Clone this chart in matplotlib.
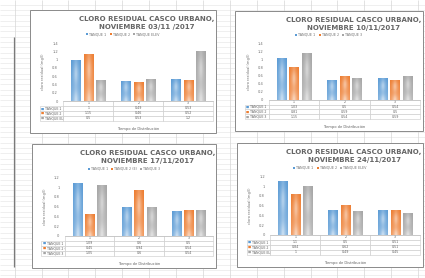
import numpy as np
import matplotlib
matplotlib.use("Agg")
import matplotlib.pyplot as plt
from matplotlib.patches import Rectangle, Patch
from matplotlib.colors import to_rgb

W, H = 425, 278

categories = ["1", "2", "3"]
series_colors = ["#5B9BD5", "#ED7D31", "#A5A5A5"]

# values (tank 1, tank 2, tank 3) per distribution time
dates = ["NOVIEMBRE 03/11 /2017", "NOVIEMBRE 10/11/2017",
         "NOVIEMBRE 17/11/2017", "NOVIEMBRE 24/11/2017"]
names = [["TANQUE 1", "TANQUE 2", "TANQUE ELEV"],
         ["TANQUE 1", "TANQUE 2", "TANQUE 3"],
         ["TANQUE 1", "TANQUE 2 (E)", "TANQUE 3"],
         ["TANQUE 1", "TANQUE 2", "TANQUE ELEV"]]
vals_03 = [[1.0, 0.49, 0.53], [1.15, 0.46, 0.52], [0.5, 0.53, 1.2]]
vals_10 = [[1.03, 0.5, 0.54], [0.81, 0.59, 0.5], [1.15, 0.54, 0.59]]
vals_17 = [[1.09, 0.6, 0.5], [0.45, 0.94, 0.54], [1.05, 0.6, 0.54]]
vals_24 = [[1.1, 0.5, 0.51], [0.84, 0.62, 0.51], [1.0, 0.49, 0.45]]
all_vals = [vals_03, vals_10, vals_17, vals_24]
ymax = [1.4, 1.4, 1.2, 1.2]

# chart boxes in pixels: left, top, right, bottom
boxes = [(30, 10, 216, 133), (235, 11, 423, 131),
         (32, 144, 216, 268), (237, 143, 423, 267)]

fig = plt.figure(figsize=(W / 100, H / 100), dpi=100)
fig.patch.set_facecolor("white")

# spreadsheet background
bg = fig.add_axes([0, 0, 1, 1])
bg.set_xlim(0, W)
bg.set_ylim(H, 0)
bg.axis("off")
bg.hlines(np.arange(4.9, H, 5.3), 0, W, color="#e4e4e4", lw=0.4)
bg.vlines(np.arange(14.7, W, 26.9), 0, H, color="#d6d6d6", lw=0.5)
bg.vlines(14, 37, 267, color="#7a7a7a", lw=0.9)


def gradient_bar(ax, bar, color):
    x, y = bar.get_x(), bar.get_y()
    w, h = bar.get_width(), bar.get_height()
    rgb = np.array(to_rgb(color))
    xs = np.linspace(-1, 1, 30)
    ys = np.linspace(0, 1, 80)
    hx = (1 - np.abs(xs)) ** 1.3
    band = 0.5 + 0.5 * np.cos(ys * 2 * np.pi * 1.5)
    mix = 0.5 * hx[None, :] * (0.5 + 0.5 * band[:, None]) + 0.22 * (1 - ys[:, None])
    mix = np.clip(mix, 0, 0.8)
    img = rgb[None, None, :] * (1 - mix[..., None]) + mix[..., None]
    im = ax.imshow(img, extent=[x, x + w, y, y + h], origin="lower",
                   aspect="auto", zorder=2, interpolation="bilinear")
    im.set_clip_path(bar)
    bar.set_facecolor("none")


for k, (l, t, r, b) in enumerate(boxes):
    bw, bh = r - l, b - t
    fig.patches.append(Rectangle((l / W, 1 - b / H), bw / W, bh / H,
                                 transform=fig.transFigure, facecolor="white",
                                 edgecolor="#8a8a8a", lw=0.7, zorder=1))
    # title
    cx = (l + 0.63 * bw) / W
    fig.text(cx, 1 - (t + 0.075 * bh) / H, "CLORO RESIDUAL CASCO URBANO,",
             ha="center", va="center", fontsize=5.0, color="#666666",
             fontweight="semibold", zorder=3)
    fig.text(cx, 1 - (t + 0.14 * bh) / H, dates[k],
             ha="center", va="center", fontsize=5.0, color="#666666",
             fontweight="semibold", zorder=3)

    ax_l = l + 0.18 * bw
    ax_r = l + 0.985 * bw
    ax_t = t + 0.27 * bh
    ax_b = t + 0.74 * bh
    ax = fig.add_axes([ax_l / W, 1 - ax_b / H, (ax_r - ax_l) / W, (ax_b - ax_t) / H])
    ax.set_zorder(2)
    ax.patch.set_alpha(0)

    vals = all_vals[k]
    x = np.arange(len(categories))
    for s in range(3):
        bars = ax.bar(x + (s - 1) * 0.245, vals[s], 0.19, color=series_colors[s], zorder=2)
        for bar in bars:
            gradient_bar(ax, bar, series_colors[s])

    ax.set_xlim(-0.5, 2.5)
    ax.set_ylim(0, ymax[k])
    yt = np.arange(0, ymax[k] + 0.01, 0.2)
    ax.set_yticks(yt)
    ax.set_yticklabels([f"{v:g}" for v in yt])
    ax.tick_params(axis="y", labelsize=2.6, colors="#707070", length=0, pad=4)
    ax.set_xticks([])
    for sp in ["top", "right", "left"]:
        ax.spines[sp].set_visible(False)
    ax.spines["bottom"].set_color("#bfbfbf")
    ax.spines["bottom"].set_linewidth(0.5)
    ax.set_ylabel("cloro residual (mg/l)", fontsize=2.6, color="#707070", labelpad=5)

    # data table below the plot
    rl = 0.16
    th = 0.34
    cell_text = [["", *categories]]
    for s in range(3):
        cell_text.append(["     " + names[k][s]] + [f"{vals[s][c]:g}" for c in range(3)])
    tab = ax.table(cellText=cell_text, colWidths=[rl, 1 / 3, 1 / 3, 1 / 3],
                   bbox=[-rl, -th, 1 + rl, th], cellLoc="center")
    tab.auto_set_font_size(False)
    tab.set_fontsize(2.3)
    for (ri, ci), cell in tab.get_celld().items():
        cell.set_edgecolor("#c8c8c8")
        cell.set_linewidth(0.4)
        cell.get_text().set_color("#606060")
        if ci == 0:
            cell.get_text().set_ha("left")
            cell.PAD = 0.02
        if ri == 0 and ci == 0:
            cell.visible_edges = ""
    for s in range(3):
        ax.text(-rl + 0.008, -th + th * (2.5 - s) / 4, "\u25A0", color=series_colors[s],
                fontsize=2.4, va="center", ha="left", transform=ax.transAxes,
                clip_on=False, zorder=5)

    ax.text(0.5, -th - 0.14, "Tiempo de Distribución", transform=ax.transAxes,
            ha="center", va="center", fontsize=2.6, color="#606060")

    handles = [Patch(facecolor=c) for c in series_colors]
    ax.legend(handles, names[k], ncol=3, loc="center",
              bbox_to_anchor=((l + 0.5 * bw - ax_l) / (ax_r - ax_l),
                              (ax_b - (t + 0.2 * bh)) / (ax_b - ax_t)),
              fontsize=2.4, frameon=False, handlelength=0.6, handleheight=0.6,
              handletextpad=0.3, columnspacing=1.0, labelcolor="#707070")

fig.savefig("out.png", dpi=100, facecolor="white")
